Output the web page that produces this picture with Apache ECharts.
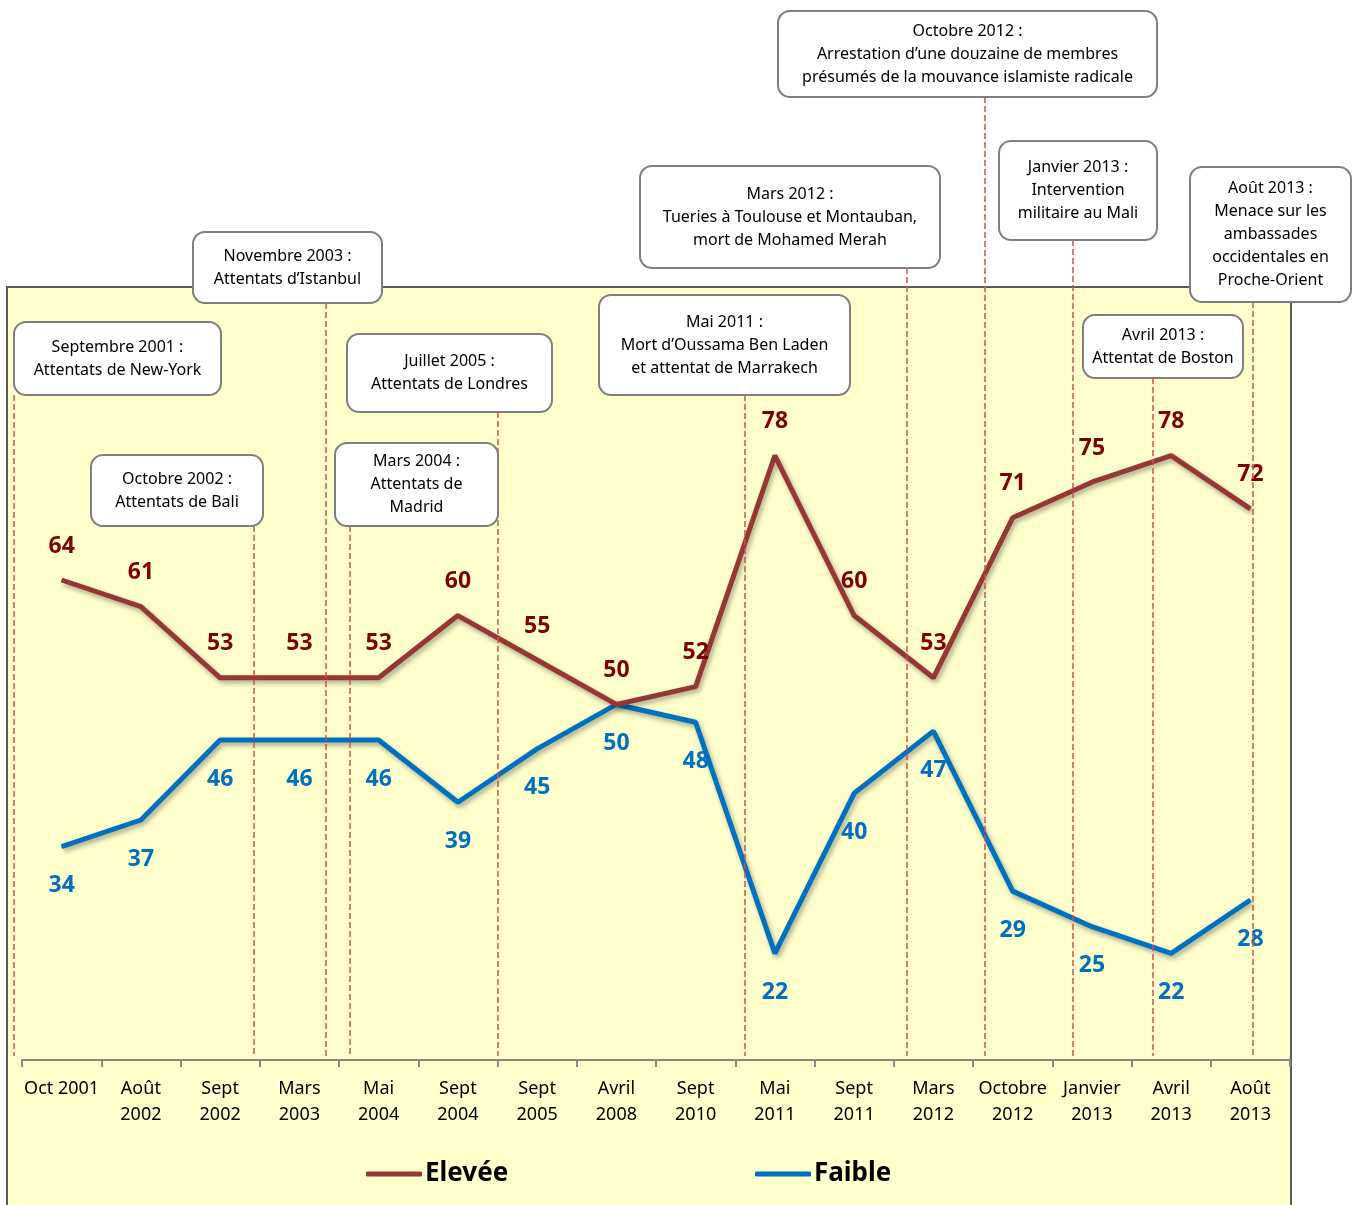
<!DOCTYPE html>
<html>
<head>
<meta charset="utf-8">
<script src="https://cdn.jsdelivr.net/npm/echarts@6/dist/echarts.min.js"></script>
<style>
  html, body { margin: 0; padding: 0; background: #fff; }
  #chart { width: 1357px; height: 1205px; }
</style>
</head>
<body>
<div id="chart"></div>
<script>
var categories = ['Oct 2001', 'Août\n2002', 'Sept\n2002', 'Mars\n2003', 'Mai\n2004', 'Sept\n2004', 'Sept\n2005', 'Avril\n2008',
  'Sept\n2010', 'Mai\n2011', 'Sept\n2011', 'Mars\n2012', 'Octobre\n2012', 'Janvier\n2013', 'Avril\n2013', 'Août\n2013'];
var elevee = [64, 61, 53, 53, 53, 60, 55, 50, 52, 78, 60, 53, 71, 75, 78, 72];
var faible = [34, 37, 46, 46, 46, 39, 45, 50, 48, 22, 40, 47, 29, 25, 22, 28];

// evenements : position en index de categorie (fractionnaire) + texte
var eventPos = [-0.6, 2.43, 3.34, 3.64, 5.51, 8.62, 10.67, 11.65, 12.76, 13.77, 15.03];
var eventText = [
  'Septembre 2001 :\nAttentats de New-York',
  'Octobre 2002 :\nAttentats de Bali',
  'Novembre 2003 :\nAttentats d\u2019Istanbul',
  'Mars 2004 :\nAttentats de\nMadrid',
  'Juillet 2005 :\nAttentats de Londres',
  'Mai 2011 :\nMort d\u2019Oussama Ben Laden\net attentat de Marrakech',
  'Mars 2012 :\nTueries à Toulouse et Montauban,\nmort de Mohamed Merah',
  'Octobre 2012 :\nArrestation d\u2019une douzaine de membres\nprésumés de la mouvance islamiste radicale',
  'Janvier 2013 :\nIntervention\nmilitaire au Mali',
  'Avril 2013 :\nAttentat de Boston',
  'Août 2013 :\nMenace sur les\nambassades\noccidentales en\nProche-Orient'
];
// cadres des encadres [x, y, w, h]
var boxes = [
  [14, 322, 207, 73], [91, 455, 172, 71], [193, 232, 189, 71], [335, 443, 163, 83],
  [347, 334, 205, 78], [599, 295, 251, 100], [640, 166, 300, 102], [778, 11, 379, 86],
  [999, 141, 158, 99], [1083, 315, 160, 63], [1190, 167, 161, 135]
];

var FONT = '"Noto Sans", sans-serif';
var gridLeft = 22, gridRight = 67, gridTop = 260, gridBottom = 145;
var plotW = 1357 - gridLeft - gridRight;
var catW = plotW / categories.length;

var myChart = echarts.init(document.getElementById('chart'));

var graphics = [];
graphics.push({
  type: 'rect', z: -10,
  shape: { x: 7, y: 287, width: 1284, height: 940 },
  style: { fill: '#FFFFCC', stroke: '#595959', lineWidth: 2 }
});
for (var i = 0; i < eventPos.length; i++) {
  var b = boxes[i];
  var lx = Math.round(gridLeft + (eventPos[i] + 0.5) * catW);
  graphics.push({
    type: 'line', z: 50,
    shape: { x1: lx, y1: b[1] + b[3], x2: lx, y2: 1056 },
    style: { stroke: '#D0504D', lineWidth: 1.5, lineDash: [6, 3] }
  });
  graphics.push({
    type: 'rect', z: 60,
    shape: { x: b[0], y: b[1], width: b[2], height: b[3], r: 12 },
    style: { fill: '#fff', stroke: '#7F7F7F', lineWidth: 2 }
  });
  graphics.push({
    type: 'text', z: 61,
    x: b[0] + b[2] / 2, y: b[1] + b[3] / 2,
    style: {
      text: eventText[i], fill: '#000', font: '16px ' + FONT,
      align: 'center', verticalAlign: 'middle', lineHeight: 23
    }
  });
}

var opt = {
  animation: false,
  backgroundColor: '#fff',
  grid: { left: gridLeft, right: gridRight, top: gridTop, bottom: gridBottom },
  legend: [
    {
      data: ['Elevée'], left: 361, top: 1156, icon: 'roundRect',
      itemWidth: 56, itemHeight: 5, itemGap: 0,
      textStyle: { fontSize: 26, fontWeight: 'bold', color: '#000', fontFamily: FONT, padding: [0, 0, 0, -2] }
    },
    {
      data: ['Faible'], left: 750, top: 1156, icon: 'roundRect',
      itemWidth: 56, itemHeight: 5, itemGap: 0,
      textStyle: { fontSize: 26, fontWeight: 'bold', color: '#000', fontFamily: FONT, padding: [0, 0, 0, -2] }
    }
  ],
  xAxis: {
    type: 'category',
    data: categories,
    boundaryGap: true,
    axisLine: { lineStyle: { color: '#868686', width: 2 } },
    axisTick: { show: true, length: 7, lineStyle: { color: '#868686', width: 2 } },
    axisLabel: { color: '#000', fontSize: 18, fontFamily: FONT, lineHeight: 26, margin: 16, interval: 0 },
    splitLine: { show: false }
  },
  yAxis: {
    type: 'value', min: 10, max: 100, show: false,
    splitLine: { show: false }
  },
  series: [
    {
      name: 'Elevée', type: 'line', data: elevee,
      symbol: 'circle', symbolSize: 1,
      itemStyle: { color: '#953735' },
      lineStyle: { width: 5, color: '#953735', shadowColor: 'rgba(0,0,0,0.35)', shadowBlur: 5, shadowOffsetX: 2, shadowOffsetY: 3 },
      label: { show: true, position: 'top', distance: 22, color: '#7F0000', fontSize: 23, fontWeight: 'bold', fontFamily: FONT },
      z: 5
    },
    {
      name: 'Faible', type: 'line', data: faible,
      symbol: 'circle', symbolSize: 1,
      itemStyle: { color: '#0070C0' },
      lineStyle: { width: 5, color: '#0070C0', shadowColor: 'rgba(0,0,0,0.35)', shadowBlur: 5, shadowOffsetX: 2, shadowOffsetY: 3 },
      label: { show: true, position: 'bottom', distance: 27, color: '#0070C0', fontSize: 23, fontWeight: 'bold', fontFamily: FONT },
      z: 4
    }
  ],
  graphic: graphics
};
myChart.setOption(opt);
</script>
</body>
</html>
